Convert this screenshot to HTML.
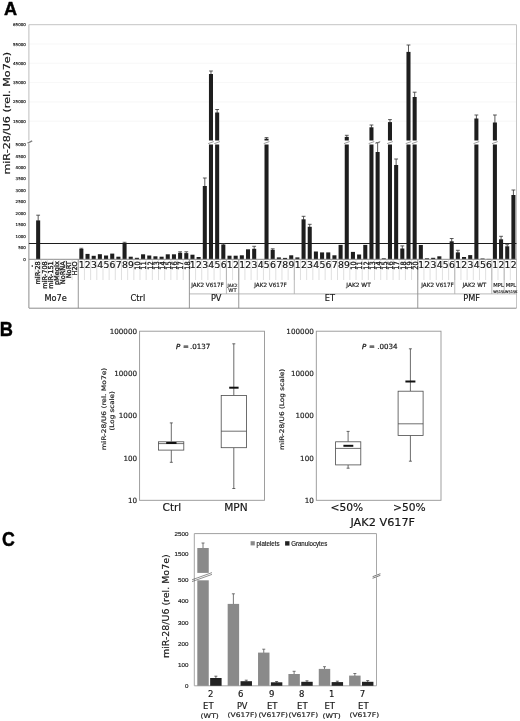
<!DOCTYPE html>
<html lang="en">
<head>
<meta charset="utf-8">
<title>miR-28 expression figure</title>
<style>
html,body{margin:0;padding:0;background:#fff;}
body{width:520px;height:721px;overflow:hidden;}
svg{display:block;font-family:"DejaVu Sans","Liberation Sans",sans-serif;fill:#222;}
svg text{stroke:#222;stroke-width:0.18px;}
svg text[font-weight=bold]{stroke:#000;stroke-width:0.45px;}
svg text.b{stroke-width:0.32px;}
</style>
</head>
<body>
<svg width="520" height="721" viewBox="0 0 520 721">
<rect x="0" y="0" width="520" height="721" fill="#fff"/>
<g id="panelA">
<text x="4" y="15.2" font-size="19.2" font-family='"Liberation Sans", "DejaVu Sans", sans-serif' font-weight="bold" fill="#000" textLength="13.1" lengthAdjust="spacingAndGlyphs">A</text>
<line x1="28.9" y1="44" x2="516.5" y2="44" stroke="#f5f5f5" stroke-width="0.8"/>
<line x1="28.9" y1="63.3" x2="516.5" y2="63.3" stroke="#f5f5f5" stroke-width="0.8"/>
<line x1="28.9" y1="82.6" x2="516.5" y2="82.6" stroke="#f5f5f5" stroke-width="0.8"/>
<line x1="28.9" y1="101.9" x2="516.5" y2="101.9" stroke="#f5f5f5" stroke-width="0.8"/>
<line x1="28.9" y1="121.2" x2="516.5" y2="121.2" stroke="#f5f5f5" stroke-width="0.8"/>
<line x1="28.9" y1="24.7" x2="516.5" y2="24.7" stroke="#c4c4c4" stroke-width="1"/>
<line x1="516.5" y1="24.7" x2="516.5" y2="308" stroke="#c4c4c4" stroke-width="1"/>
<line x1="28.9" y1="24.7" x2="28.9" y2="140.6" stroke="#bdbdbd" stroke-width="1"/>
<line x1="28.9" y1="143.6" x2="28.9" y2="308" stroke="#8c8c8c" stroke-width="1"/>
<line x1="27.6" y1="143.2" x2="32.2" y2="140.8" stroke="#808080" stroke-width="1.4"/>
<text x="25.8" y="26.25" font-size="4" text-anchor="end">65000</text>
<text x="25.8" y="45.75" font-size="4" text-anchor="end">55000</text>
<text x="25.8" y="65.05" font-size="4" text-anchor="end">45000</text>
<text x="25.8" y="84.35" font-size="4" text-anchor="end">35000</text>
<text x="25.8" y="103.45" font-size="4" text-anchor="end">25000</text>
<text x="25.8" y="122.75" font-size="4" text-anchor="end">15000</text>
<text x="25.8" y="146.05" font-size="4" text-anchor="end">5000</text>
<text x="25.8" y="157.53" font-size="4" text-anchor="end">4500</text>
<text x="25.8" y="169.01" font-size="4" text-anchor="end">4000</text>
<text x="25.8" y="180.49" font-size="4" text-anchor="end">3500</text>
<text x="25.8" y="191.97" font-size="4" text-anchor="end">3000</text>
<text x="25.8" y="203.45" font-size="4" text-anchor="end">2500</text>
<text x="25.8" y="214.93" font-size="4" text-anchor="end">2000</text>
<text x="25.8" y="226.41" font-size="4" text-anchor="end">1500</text>
<text x="25.8" y="237.89" font-size="4" text-anchor="end">1000</text>
<text x="25.8" y="249.37" font-size="4" text-anchor="end">500</text>
<text x="25.8" y="260.85" font-size="4" text-anchor="end">0</text>
<text x="10.3" y="113.3" font-size="8.8" text-anchor="middle" fill="#111" transform="rotate(-90 10.3 113.3)" textLength="122.6" lengthAdjust="spacingAndGlyphs">miR-28/U6 (rel. Mo7e)</text>
<line x1="28.9" y1="243.4" x2="516.5" y2="243.4" stroke="#1c1c1c" stroke-width="1.05"/>
<line x1="38.16" y1="215.2" x2="38.16" y2="220.9" stroke="#3c3c3c" stroke-width="0.85"/>
<line x1="36.26" y1="215.2" x2="40.06" y2="215.2" stroke="#3c3c3c" stroke-width="0.85"/>
<rect x="36.13" y="220.4" width="4.05" height="38.9" fill="#1e1e1e"/>
<line x1="81.36" y1="248.3" x2="81.36" y2="249.5" stroke="#3c3c3c" stroke-width="0.85"/>
<line x1="79.46" y1="248.3" x2="83.26" y2="248.3" stroke="#3c3c3c" stroke-width="0.85"/>
<rect x="79.34" y="249" width="4.05" height="10.3" fill="#1e1e1e"/>
<rect x="85.51" y="253.9" width="4.05" height="5.4" fill="#1e1e1e"/>
<rect x="91.68" y="255.8" width="4.05" height="3.5" fill="#1e1e1e"/>
<rect x="97.85" y="254.2" width="4.05" height="5.1" fill="#1e1e1e"/>
<rect x="104.03" y="255.5" width="4.05" height="3.8" fill="#1e1e1e"/>
<rect x="110.2" y="253.6" width="4.05" height="5.7" fill="#1e1e1e"/>
<rect x="116.37" y="256.7" width="4.05" height="2.6" fill="#1e1e1e"/>
<line x1="124.57" y1="242.3" x2="124.57" y2="243.6" stroke="#3c3c3c" stroke-width="0.85"/>
<line x1="122.67" y1="242.3" x2="126.47" y2="242.3" stroke="#3c3c3c" stroke-width="0.85"/>
<rect x="122.54" y="243.1" width="4.05" height="16.2" fill="#1e1e1e"/>
<rect x="128.72" y="256.7" width="4.05" height="2.6" fill="#1e1e1e"/>
<rect x="134.89" y="257.8" width="4.05" height="1.5" fill="#1e1e1e"/>
<rect x="141.06" y="254.3" width="4.05" height="5" fill="#1e1e1e"/>
<rect x="147.23" y="255.5" width="4.05" height="3.8" fill="#1e1e1e"/>
<rect x="153.4" y="256.3" width="4.05" height="3" fill="#1e1e1e"/>
<rect x="159.58" y="256.7" width="4.05" height="2.6" fill="#1e1e1e"/>
<rect x="165.75" y="254.3" width="4.05" height="5" fill="#1e1e1e"/>
<rect x="171.92" y="254.3" width="4.05" height="5" fill="#1e1e1e"/>
<line x1="180.12" y1="251.8" x2="180.12" y2="253.3" stroke="#3c3c3c" stroke-width="0.85"/>
<line x1="178.22" y1="251.8" x2="182.02" y2="251.8" stroke="#3c3c3c" stroke-width="0.85"/>
<rect x="178.09" y="252.8" width="4.05" height="6.5" fill="#1e1e1e"/>
<line x1="186.29" y1="251.8" x2="186.29" y2="253.6" stroke="#3c3c3c" stroke-width="0.85"/>
<line x1="184.39" y1="251.8" x2="188.19" y2="251.8" stroke="#3c3c3c" stroke-width="0.85"/>
<rect x="184.26" y="253.1" width="4.05" height="6.2" fill="#1e1e1e"/>
<rect x="190.44" y="254.7" width="4.05" height="4.6" fill="#1e1e1e"/>
<rect x="196.61" y="257" width="4.05" height="2.3" fill="#1e1e1e"/>
<line x1="204.81" y1="178" x2="204.81" y2="186.5" stroke="#3c3c3c" stroke-width="0.85"/>
<line x1="202.91" y1="178" x2="206.71" y2="178" stroke="#3c3c3c" stroke-width="0.85"/>
<rect x="202.78" y="186" width="4.05" height="73.3" fill="#1e1e1e"/>
<line x1="210.98" y1="71" x2="210.98" y2="74.5" stroke="#3c3c3c" stroke-width="0.85"/>
<line x1="209.08" y1="71" x2="212.88" y2="71" stroke="#3c3c3c" stroke-width="0.85"/>
<rect x="208.95" y="74" width="4.05" height="66.5" fill="#1e1e1e"/>
<rect x="208.95" y="144.5" width="4.05" height="114.8" fill="#1e1e1e"/>
<line x1="208.18" y1="143.6" x2="213.78" y2="141.6" stroke="#9a9a9a" stroke-width="1"/>
<line x1="217.15" y1="109.5" x2="217.15" y2="113" stroke="#3c3c3c" stroke-width="0.85"/>
<line x1="215.25" y1="109.5" x2="219.05" y2="109.5" stroke="#3c3c3c" stroke-width="0.85"/>
<rect x="215.13" y="112.5" width="4.05" height="28" fill="#1e1e1e"/>
<rect x="215.13" y="144.5" width="4.05" height="114.8" fill="#1e1e1e"/>
<line x1="214.35" y1="143.6" x2="219.95" y2="141.6" stroke="#9a9a9a" stroke-width="1"/>
<line x1="223.32" y1="243.8" x2="223.32" y2="245.1" stroke="#3c3c3c" stroke-width="0.85"/>
<line x1="221.42" y1="243.8" x2="225.22" y2="243.8" stroke="#3c3c3c" stroke-width="0.85"/>
<rect x="221.3" y="244.6" width="4.05" height="14.7" fill="#1e1e1e"/>
<rect x="227.47" y="255.7" width="4.05" height="3.6" fill="#1e1e1e"/>
<rect x="233.64" y="255.7" width="4.05" height="3.6" fill="#1e1e1e"/>
<rect x="239.81" y="255.3" width="4.05" height="4" fill="#1e1e1e"/>
<rect x="245.99" y="249.3" width="4.05" height="10" fill="#1e1e1e"/>
<line x1="254.18" y1="246.3" x2="254.18" y2="249.3" stroke="#3c3c3c" stroke-width="0.85"/>
<line x1="252.28" y1="246.3" x2="256.08" y2="246.3" stroke="#3c3c3c" stroke-width="0.85"/>
<rect x="252.16" y="248.8" width="4.05" height="10.5" fill="#1e1e1e"/>
<line x1="266.53" y1="137.6" x2="266.53" y2="139.2" stroke="#3c3c3c" stroke-width="0.85"/>
<line x1="264.63" y1="137.6" x2="268.43" y2="137.6" stroke="#3c3c3c" stroke-width="0.85"/>
<rect x="264.5" y="138.7" width="4.05" height="1.8" fill="#1e1e1e"/>
<rect x="264.5" y="144.5" width="4.05" height="114.8" fill="#1e1e1e"/>
<line x1="263.73" y1="143.6" x2="269.33" y2="141.6" stroke="#9a9a9a" stroke-width="1"/>
<line x1="272.7" y1="248.8" x2="272.7" y2="250.3" stroke="#3c3c3c" stroke-width="0.85"/>
<line x1="270.8" y1="248.8" x2="274.6" y2="248.8" stroke="#3c3c3c" stroke-width="0.85"/>
<rect x="270.68" y="249.8" width="4.05" height="9.5" fill="#1e1e1e"/>
<rect x="276.85" y="257.4" width="4.05" height="1.9" fill="#1e1e1e"/>
<rect x="283.02" y="257.9" width="4.05" height="1.4" fill="#1e1e1e"/>
<rect x="289.19" y="255.3" width="4.05" height="4" fill="#1e1e1e"/>
<rect x="295.36" y="257.4" width="4.05" height="1.9" fill="#1e1e1e"/>
<line x1="303.56" y1="216.3" x2="303.56" y2="219.8" stroke="#3c3c3c" stroke-width="0.85"/>
<line x1="301.66" y1="216.3" x2="305.46" y2="216.3" stroke="#3c3c3c" stroke-width="0.85"/>
<rect x="301.54" y="219.3" width="4.05" height="40" fill="#1e1e1e"/>
<line x1="309.73" y1="224.3" x2="309.73" y2="227.3" stroke="#3c3c3c" stroke-width="0.85"/>
<line x1="307.83" y1="224.3" x2="311.63" y2="224.3" stroke="#3c3c3c" stroke-width="0.85"/>
<rect x="307.71" y="226.8" width="4.05" height="32.5" fill="#1e1e1e"/>
<rect x="313.88" y="251.5" width="4.05" height="7.8" fill="#1e1e1e"/>
<rect x="320.05" y="252.4" width="4.05" height="6.9" fill="#1e1e1e"/>
<rect x="326.22" y="252.4" width="4.05" height="6.9" fill="#1e1e1e"/>
<rect x="332.4" y="255.3" width="4.05" height="4" fill="#1e1e1e"/>
<rect x="338.57" y="244.9" width="4.05" height="14.4" fill="#1e1e1e"/>
<line x1="346.77" y1="135.3" x2="346.77" y2="137.4" stroke="#3c3c3c" stroke-width="0.85"/>
<line x1="344.87" y1="135.3" x2="348.67" y2="135.3" stroke="#3c3c3c" stroke-width="0.85"/>
<rect x="344.74" y="136.9" width="4.05" height="3.6" fill="#1e1e1e"/>
<rect x="344.74" y="144.5" width="4.05" height="114.8" fill="#1e1e1e"/>
<line x1="343.97" y1="143.6" x2="349.57" y2="141.6" stroke="#9a9a9a" stroke-width="1"/>
<rect x="350.91" y="251.9" width="4.05" height="7.4" fill="#1e1e1e"/>
<rect x="357.09" y="254.5" width="4.05" height="4.8" fill="#1e1e1e"/>
<rect x="363.26" y="244.9" width="4.05" height="14.4" fill="#1e1e1e"/>
<line x1="371.45" y1="125" x2="371.45" y2="127.8" stroke="#3c3c3c" stroke-width="0.85"/>
<line x1="369.55" y1="125" x2="373.35" y2="125" stroke="#3c3c3c" stroke-width="0.85"/>
<rect x="369.43" y="127.3" width="4.05" height="13.2" fill="#1e1e1e"/>
<rect x="369.43" y="144.5" width="4.05" height="114.8" fill="#1e1e1e"/>
<line x1="368.65" y1="143.6" x2="374.25" y2="141.6" stroke="#9a9a9a" stroke-width="1"/>
<line x1="377.63" y1="142.6" x2="377.63" y2="152.5" stroke="#3c3c3c" stroke-width="0.85"/>
<line x1="375.73" y1="142.6" x2="379.53" y2="142.6" stroke="#3c3c3c" stroke-width="0.85"/>
<rect x="375.6" y="152" width="4.05" height="107.3" fill="#1e1e1e"/>
<line x1="375.43" y1="143.5" x2="380.23" y2="141.5" stroke="#777" stroke-width="0.9"/>
<rect x="381.77" y="258.3" width="4.05" height="1" fill="#1e1e1e"/>
<line x1="389.97" y1="119.6" x2="389.97" y2="122.6" stroke="#3c3c3c" stroke-width="0.85"/>
<line x1="388.07" y1="119.6" x2="391.87" y2="119.6" stroke="#3c3c3c" stroke-width="0.85"/>
<rect x="387.95" y="122.1" width="4.05" height="18.4" fill="#1e1e1e"/>
<rect x="387.95" y="144.5" width="4.05" height="114.8" fill="#1e1e1e"/>
<line x1="387.17" y1="143.6" x2="392.77" y2="141.6" stroke="#9a9a9a" stroke-width="1"/>
<line x1="396.14" y1="159" x2="396.14" y2="165.5" stroke="#3c3c3c" stroke-width="0.85"/>
<line x1="394.24" y1="159" x2="398.04" y2="159" stroke="#3c3c3c" stroke-width="0.85"/>
<rect x="394.12" y="165" width="4.05" height="94.3" fill="#1e1e1e"/>
<line x1="402.32" y1="245.9" x2="402.32" y2="249" stroke="#3c3c3c" stroke-width="0.85"/>
<line x1="400.42" y1="245.9" x2="404.22" y2="245.9" stroke="#3c3c3c" stroke-width="0.85"/>
<rect x="400.29" y="248.5" width="4.05" height="10.8" fill="#1e1e1e"/>
<line x1="408.49" y1="45" x2="408.49" y2="52.4" stroke="#3c3c3c" stroke-width="0.85"/>
<line x1="406.59" y1="45" x2="410.39" y2="45" stroke="#3c3c3c" stroke-width="0.85"/>
<rect x="406.46" y="51.9" width="4.05" height="88.6" fill="#1e1e1e"/>
<rect x="406.46" y="144.5" width="4.05" height="114.8" fill="#1e1e1e"/>
<line x1="405.69" y1="143.6" x2="411.29" y2="141.6" stroke="#9a9a9a" stroke-width="1"/>
<line x1="414.66" y1="92.2" x2="414.66" y2="97.5" stroke="#3c3c3c" stroke-width="0.85"/>
<line x1="412.76" y1="92.2" x2="416.56" y2="92.2" stroke="#3c3c3c" stroke-width="0.85"/>
<rect x="412.63" y="97" width="4.05" height="43.5" fill="#1e1e1e"/>
<rect x="412.63" y="144.5" width="4.05" height="114.8" fill="#1e1e1e"/>
<line x1="411.86" y1="143.6" x2="417.46" y2="141.6" stroke="#9a9a9a" stroke-width="1"/>
<rect x="418.81" y="245" width="4.05" height="14.3" fill="#1e1e1e"/>
<rect x="424.98" y="258.3" width="4.05" height="1" fill="#1e1e1e"/>
<rect x="431.15" y="257.8" width="4.05" height="1.5" fill="#1e1e1e"/>
<rect x="437.32" y="256.3" width="4.05" height="3" fill="#1e1e1e"/>
<line x1="451.69" y1="238.5" x2="451.69" y2="241.8" stroke="#3c3c3c" stroke-width="0.85"/>
<line x1="449.79" y1="238.5" x2="453.59" y2="238.5" stroke="#3c3c3c" stroke-width="0.85"/>
<rect x="449.67" y="241.3" width="4.05" height="18" fill="#1e1e1e"/>
<line x1="457.86" y1="250.3" x2="457.86" y2="252.9" stroke="#3c3c3c" stroke-width="0.85"/>
<line x1="455.96" y1="250.3" x2="459.76" y2="250.3" stroke="#3c3c3c" stroke-width="0.85"/>
<rect x="455.84" y="252.4" width="4.05" height="6.9" fill="#1e1e1e"/>
<rect x="462.01" y="257" width="4.05" height="2.3" fill="#1e1e1e"/>
<rect x="468.18" y="255.1" width="4.05" height="4.2" fill="#1e1e1e"/>
<line x1="476.38" y1="115" x2="476.38" y2="119" stroke="#3c3c3c" stroke-width="0.85"/>
<line x1="474.48" y1="115" x2="478.28" y2="115" stroke="#3c3c3c" stroke-width="0.85"/>
<rect x="474.36" y="118.5" width="4.05" height="22" fill="#1e1e1e"/>
<rect x="474.36" y="144.5" width="4.05" height="114.8" fill="#1e1e1e"/>
<line x1="473.58" y1="143.6" x2="479.18" y2="141.6" stroke="#9a9a9a" stroke-width="1"/>
<rect x="480.53" y="258.5" width="4.05" height="0.8" fill="#1e1e1e"/>
<rect x="486.7" y="258.9" width="4.05" height="0.4" fill="#1e1e1e"/>
<line x1="494.9" y1="115" x2="494.9" y2="123" stroke="#3c3c3c" stroke-width="0.85"/>
<line x1="493" y1="115" x2="496.8" y2="115" stroke="#3c3c3c" stroke-width="0.85"/>
<rect x="492.87" y="122.5" width="4.05" height="18" fill="#1e1e1e"/>
<rect x="492.87" y="144.5" width="4.05" height="114.8" fill="#1e1e1e"/>
<line x1="492.1" y1="143.6" x2="497.7" y2="141.6" stroke="#9a9a9a" stroke-width="1"/>
<line x1="501.07" y1="236.3" x2="501.07" y2="239.8" stroke="#3c3c3c" stroke-width="0.85"/>
<line x1="499.17" y1="236.3" x2="502.97" y2="236.3" stroke="#3c3c3c" stroke-width="0.85"/>
<rect x="499.04" y="239.3" width="4.05" height="20" fill="#1e1e1e"/>
<line x1="507.24" y1="244.7" x2="507.24" y2="246.8" stroke="#3c3c3c" stroke-width="0.85"/>
<line x1="505.34" y1="244.7" x2="509.14" y2="244.7" stroke="#3c3c3c" stroke-width="0.85"/>
<rect x="505.22" y="246.3" width="4.05" height="13" fill="#1e1e1e"/>
<line x1="513.41" y1="190" x2="513.41" y2="195.5" stroke="#3c3c3c" stroke-width="0.85"/>
<line x1="511.51" y1="190" x2="515.31" y2="190" stroke="#3c3c3c" stroke-width="0.85"/>
<rect x="511.39" y="195" width="4.05" height="64.3" fill="#1e1e1e"/>
<line x1="28.9" y1="259.3" x2="516.5" y2="259.3" stroke="#8c8c8c" stroke-width="1"/>
<line x1="35.07" y1="259.8" x2="35.07" y2="280" stroke="#d2d2d2" stroke-width="0.7"/>
<line x1="41.24" y1="259.8" x2="41.24" y2="280" stroke="#d2d2d2" stroke-width="0.7"/>
<line x1="47.42" y1="259.8" x2="47.42" y2="280" stroke="#d2d2d2" stroke-width="0.7"/>
<line x1="53.59" y1="259.8" x2="53.59" y2="280" stroke="#d2d2d2" stroke-width="0.7"/>
<line x1="59.76" y1="259.8" x2="59.76" y2="280" stroke="#d2d2d2" stroke-width="0.7"/>
<line x1="65.93" y1="259.8" x2="65.93" y2="280" stroke="#d2d2d2" stroke-width="0.7"/>
<line x1="72.11" y1="259.8" x2="72.11" y2="280" stroke="#d2d2d2" stroke-width="0.7"/>
<line x1="78.28" y1="259.8" x2="78.28" y2="280" stroke="#d2d2d2" stroke-width="0.7"/>
<line x1="84.45" y1="259.8" x2="84.45" y2="280" stroke="#d2d2d2" stroke-width="0.7"/>
<line x1="90.62" y1="259.8" x2="90.62" y2="280" stroke="#d2d2d2" stroke-width="0.7"/>
<line x1="96.79" y1="259.8" x2="96.79" y2="280" stroke="#d2d2d2" stroke-width="0.7"/>
<line x1="102.97" y1="259.8" x2="102.97" y2="280" stroke="#d2d2d2" stroke-width="0.7"/>
<line x1="109.14" y1="259.8" x2="109.14" y2="280" stroke="#d2d2d2" stroke-width="0.7"/>
<line x1="115.31" y1="259.8" x2="115.31" y2="280" stroke="#d2d2d2" stroke-width="0.7"/>
<line x1="121.48" y1="259.8" x2="121.48" y2="280" stroke="#d2d2d2" stroke-width="0.7"/>
<line x1="127.65" y1="259.8" x2="127.65" y2="280" stroke="#d2d2d2" stroke-width="0.7"/>
<line x1="133.83" y1="259.8" x2="133.83" y2="280" stroke="#d2d2d2" stroke-width="0.7"/>
<line x1="140" y1="259.8" x2="140" y2="280" stroke="#d2d2d2" stroke-width="0.7"/>
<line x1="146.17" y1="259.8" x2="146.17" y2="280" stroke="#d2d2d2" stroke-width="0.7"/>
<line x1="152.34" y1="259.8" x2="152.34" y2="280" stroke="#d2d2d2" stroke-width="0.7"/>
<line x1="158.52" y1="259.8" x2="158.52" y2="280" stroke="#d2d2d2" stroke-width="0.7"/>
<line x1="164.69" y1="259.8" x2="164.69" y2="280" stroke="#d2d2d2" stroke-width="0.7"/>
<line x1="170.86" y1="259.8" x2="170.86" y2="280" stroke="#d2d2d2" stroke-width="0.7"/>
<line x1="177.03" y1="259.8" x2="177.03" y2="280" stroke="#d2d2d2" stroke-width="0.7"/>
<line x1="183.2" y1="259.8" x2="183.2" y2="280" stroke="#d2d2d2" stroke-width="0.7"/>
<line x1="189.38" y1="259.8" x2="189.38" y2="280" stroke="#d2d2d2" stroke-width="0.7"/>
<line x1="195.55" y1="259.8" x2="195.55" y2="280" stroke="#d2d2d2" stroke-width="0.7"/>
<line x1="201.72" y1="259.8" x2="201.72" y2="280" stroke="#d2d2d2" stroke-width="0.7"/>
<line x1="207.89" y1="259.8" x2="207.89" y2="280" stroke="#d2d2d2" stroke-width="0.7"/>
<line x1="214.06" y1="259.8" x2="214.06" y2="280" stroke="#d2d2d2" stroke-width="0.7"/>
<line x1="220.24" y1="259.8" x2="220.24" y2="280" stroke="#d2d2d2" stroke-width="0.7"/>
<line x1="226.41" y1="259.8" x2="226.41" y2="280" stroke="#d2d2d2" stroke-width="0.7"/>
<line x1="232.58" y1="259.8" x2="232.58" y2="280" stroke="#d2d2d2" stroke-width="0.7"/>
<line x1="238.75" y1="259.8" x2="238.75" y2="280" stroke="#d2d2d2" stroke-width="0.7"/>
<line x1="244.93" y1="259.8" x2="244.93" y2="280" stroke="#d2d2d2" stroke-width="0.7"/>
<line x1="251.1" y1="259.8" x2="251.1" y2="280" stroke="#d2d2d2" stroke-width="0.7"/>
<line x1="257.27" y1="259.8" x2="257.27" y2="280" stroke="#d2d2d2" stroke-width="0.7"/>
<line x1="263.44" y1="259.8" x2="263.44" y2="280" stroke="#d2d2d2" stroke-width="0.7"/>
<line x1="269.61" y1="259.8" x2="269.61" y2="280" stroke="#d2d2d2" stroke-width="0.7"/>
<line x1="275.79" y1="259.8" x2="275.79" y2="280" stroke="#d2d2d2" stroke-width="0.7"/>
<line x1="281.96" y1="259.8" x2="281.96" y2="280" stroke="#d2d2d2" stroke-width="0.7"/>
<line x1="288.13" y1="259.8" x2="288.13" y2="280" stroke="#d2d2d2" stroke-width="0.7"/>
<line x1="294.3" y1="259.8" x2="294.3" y2="280" stroke="#d2d2d2" stroke-width="0.7"/>
<line x1="300.47" y1="259.8" x2="300.47" y2="280" stroke="#d2d2d2" stroke-width="0.7"/>
<line x1="306.65" y1="259.8" x2="306.65" y2="280" stroke="#d2d2d2" stroke-width="0.7"/>
<line x1="312.82" y1="259.8" x2="312.82" y2="280" stroke="#d2d2d2" stroke-width="0.7"/>
<line x1="318.99" y1="259.8" x2="318.99" y2="280" stroke="#d2d2d2" stroke-width="0.7"/>
<line x1="325.16" y1="259.8" x2="325.16" y2="280" stroke="#d2d2d2" stroke-width="0.7"/>
<line x1="331.34" y1="259.8" x2="331.34" y2="280" stroke="#d2d2d2" stroke-width="0.7"/>
<line x1="337.51" y1="259.8" x2="337.51" y2="280" stroke="#d2d2d2" stroke-width="0.7"/>
<line x1="343.68" y1="259.8" x2="343.68" y2="280" stroke="#d2d2d2" stroke-width="0.7"/>
<line x1="349.85" y1="259.8" x2="349.85" y2="280" stroke="#d2d2d2" stroke-width="0.7"/>
<line x1="356.02" y1="259.8" x2="356.02" y2="280" stroke="#d2d2d2" stroke-width="0.7"/>
<line x1="362.2" y1="259.8" x2="362.2" y2="280" stroke="#d2d2d2" stroke-width="0.7"/>
<line x1="368.37" y1="259.8" x2="368.37" y2="280" stroke="#d2d2d2" stroke-width="0.7"/>
<line x1="374.54" y1="259.8" x2="374.54" y2="280" stroke="#d2d2d2" stroke-width="0.7"/>
<line x1="380.71" y1="259.8" x2="380.71" y2="280" stroke="#d2d2d2" stroke-width="0.7"/>
<line x1="386.88" y1="259.8" x2="386.88" y2="280" stroke="#d2d2d2" stroke-width="0.7"/>
<line x1="393.06" y1="259.8" x2="393.06" y2="280" stroke="#d2d2d2" stroke-width="0.7"/>
<line x1="399.23" y1="259.8" x2="399.23" y2="280" stroke="#d2d2d2" stroke-width="0.7"/>
<line x1="405.4" y1="259.8" x2="405.4" y2="280" stroke="#d2d2d2" stroke-width="0.7"/>
<line x1="411.57" y1="259.8" x2="411.57" y2="280" stroke="#d2d2d2" stroke-width="0.7"/>
<line x1="417.75" y1="259.8" x2="417.75" y2="280" stroke="#d2d2d2" stroke-width="0.7"/>
<line x1="423.92" y1="259.8" x2="423.92" y2="280" stroke="#d2d2d2" stroke-width="0.7"/>
<line x1="430.09" y1="259.8" x2="430.09" y2="280" stroke="#d2d2d2" stroke-width="0.7"/>
<line x1="436.26" y1="259.8" x2="436.26" y2="280" stroke="#d2d2d2" stroke-width="0.7"/>
<line x1="442.43" y1="259.8" x2="442.43" y2="280" stroke="#d2d2d2" stroke-width="0.7"/>
<line x1="448.61" y1="259.8" x2="448.61" y2="280" stroke="#d2d2d2" stroke-width="0.7"/>
<line x1="454.78" y1="259.8" x2="454.78" y2="280" stroke="#d2d2d2" stroke-width="0.7"/>
<line x1="460.95" y1="259.8" x2="460.95" y2="280" stroke="#d2d2d2" stroke-width="0.7"/>
<line x1="467.12" y1="259.8" x2="467.12" y2="280" stroke="#d2d2d2" stroke-width="0.7"/>
<line x1="473.29" y1="259.8" x2="473.29" y2="280" stroke="#d2d2d2" stroke-width="0.7"/>
<line x1="479.47" y1="259.8" x2="479.47" y2="280" stroke="#d2d2d2" stroke-width="0.7"/>
<line x1="485.64" y1="259.8" x2="485.64" y2="280" stroke="#d2d2d2" stroke-width="0.7"/>
<line x1="491.81" y1="259.8" x2="491.81" y2="280" stroke="#d2d2d2" stroke-width="0.7"/>
<line x1="497.98" y1="259.8" x2="497.98" y2="280" stroke="#d2d2d2" stroke-width="0.7"/>
<line x1="504.16" y1="259.8" x2="504.16" y2="280" stroke="#d2d2d2" stroke-width="0.7"/>
<line x1="510.33" y1="259.8" x2="510.33" y2="280" stroke="#d2d2d2" stroke-width="0.7"/>
<line x1="226.41" y1="259.3" x2="226.41" y2="293.9" stroke="#a8a8a8" stroke-width="0.8"/>
<line x1="294.3" y1="259.3" x2="294.3" y2="293.9" stroke="#a8a8a8" stroke-width="0.8"/>
<line x1="454.78" y1="259.3" x2="454.78" y2="293.9" stroke="#a8a8a8" stroke-width="0.8"/>
<line x1="491.81" y1="259.3" x2="491.81" y2="293.9" stroke="#a8a8a8" stroke-width="0.8"/>
<line x1="504.16" y1="259.3" x2="504.16" y2="293.9" stroke="#a8a8a8" stroke-width="0.8"/>
<line x1="189.38" y1="293.9" x2="516.5" y2="293.9" stroke="#a8a8a8" stroke-width="0.8"/>
<line x1="78.28" y1="259.3" x2="78.28" y2="308.2" stroke="#8c8c8c" stroke-width="0.9"/>
<line x1="189.38" y1="259.3" x2="189.38" y2="308.2" stroke="#8c8c8c" stroke-width="0.9"/>
<line x1="238.75" y1="259.3" x2="238.75" y2="308.2" stroke="#8c8c8c" stroke-width="0.9"/>
<line x1="417.75" y1="259.3" x2="417.75" y2="308.2" stroke="#8c8c8c" stroke-width="0.9"/>
<line x1="28.9" y1="308.2" x2="516.5" y2="308.2" stroke="#8c8c8c" stroke-width="1"/>
<text x="34.29" y="264.8" font-size="6.6" text-anchor="end" transform="rotate(-90 34.29 264.8)" class="b">-</text>
<text x="40.46" y="261.2" font-size="6.6" text-anchor="end" transform="rotate(-90 40.46 261.2)" class="b">miR-28</text>
<text x="46.63" y="261.2" font-size="6.6" text-anchor="end" transform="rotate(-90 46.63 261.2)" class="b">miR-708</text>
<text x="52.8" y="261.2" font-size="6.6" text-anchor="end" transform="rotate(-90 52.8 261.2)" class="b">miR-151</text>
<text x="58.97" y="261.2" font-size="6.6" text-anchor="end" transform="rotate(-90 58.97 261.2)" class="b">pMegix</text>
<text x="65.15" y="261.2" font-size="6.6" text-anchor="end" transform="rotate(-90 65.15 261.2)" class="b">NoRNA</text>
<text x="71.32" y="261.2" font-size="6.6" text-anchor="end" transform="rotate(-90 71.32 261.2)" class="b">NoRT</text>
<text x="77.49" y="261.2" font-size="6.6" text-anchor="end" transform="rotate(-90 77.49 261.2)" class="b">H2O</text>
<text x="81.66" y="268.2" font-size="8.6" text-anchor="middle" fill="#111" textLength="5.9" lengthAdjust="spacingAndGlyphs">1</text>
<text x="87.84" y="268.2" font-size="8.6" text-anchor="middle" fill="#111" textLength="5.9" lengthAdjust="spacingAndGlyphs">2</text>
<text x="94.01" y="268.2" font-size="8.6" text-anchor="middle" fill="#111" textLength="5.9" lengthAdjust="spacingAndGlyphs">3</text>
<text x="100.18" y="268.2" font-size="8.6" text-anchor="middle" fill="#111" textLength="5.9" lengthAdjust="spacingAndGlyphs">4</text>
<text x="106.35" y="268.2" font-size="8.6" text-anchor="middle" fill="#111" textLength="5.9" lengthAdjust="spacingAndGlyphs">5</text>
<text x="112.52" y="268.2" font-size="8.6" text-anchor="middle" fill="#111" textLength="5.9" lengthAdjust="spacingAndGlyphs">6</text>
<text x="118.7" y="268.2" font-size="8.6" text-anchor="middle" fill="#111" textLength="5.9" lengthAdjust="spacingAndGlyphs">7</text>
<text x="124.87" y="268.2" font-size="8.6" text-anchor="middle" fill="#111" textLength="5.9" lengthAdjust="spacingAndGlyphs">8</text>
<text x="131.04" y="268.2" font-size="8.6" text-anchor="middle" fill="#111" textLength="5.9" lengthAdjust="spacingAndGlyphs">9</text>
<text class="b" font-size="7.4" text-anchor="end" fill="#111" transform="translate(140.21 261.3) rotate(-90) scale(0.9 1)">10</text>
<text class="b" font-size="7.4" text-anchor="end" fill="#111" transform="translate(146.38 261.3) rotate(-90) scale(0.9 1)">11</text>
<text class="b" font-size="7.4" text-anchor="end" fill="#111" transform="translate(152.56 261.3) rotate(-90) scale(0.9 1)">12</text>
<text class="b" font-size="7.4" text-anchor="end" fill="#111" transform="translate(158.73 261.3) rotate(-90) scale(0.9 1)">13</text>
<text class="b" font-size="7.4" text-anchor="end" fill="#111" transform="translate(164.9 261.3) rotate(-90) scale(0.9 1)">14</text>
<text class="b" font-size="7.4" text-anchor="end" fill="#111" transform="translate(171.07 261.3) rotate(-90) scale(0.9 1)">15</text>
<text class="b" font-size="7.4" text-anchor="end" fill="#111" transform="translate(177.25 261.3) rotate(-90) scale(0.9 1)">16</text>
<text class="b" font-size="7.4" text-anchor="end" fill="#111" transform="translate(183.42 261.3) rotate(-90) scale(0.9 1)">17</text>
<text class="b" font-size="7.4" text-anchor="end" fill="#111" transform="translate(189.59 261.3) rotate(-90) scale(0.9 1)">18</text>
<text x="192.76" y="268.2" font-size="8.6" text-anchor="middle" fill="#111" textLength="5.9" lengthAdjust="spacingAndGlyphs">1</text>
<text x="198.93" y="268.2" font-size="8.6" text-anchor="middle" fill="#111" textLength="5.9" lengthAdjust="spacingAndGlyphs">2</text>
<text x="205.11" y="268.2" font-size="8.6" text-anchor="middle" fill="#111" textLength="5.9" lengthAdjust="spacingAndGlyphs">3</text>
<text x="211.28" y="268.2" font-size="8.6" text-anchor="middle" fill="#111" textLength="5.9" lengthAdjust="spacingAndGlyphs">4</text>
<text x="217.45" y="268.2" font-size="8.6" text-anchor="middle" fill="#111" textLength="5.9" lengthAdjust="spacingAndGlyphs">5</text>
<text x="223.62" y="268.2" font-size="8.6" text-anchor="middle" fill="#111" textLength="5.9" lengthAdjust="spacingAndGlyphs">6</text>
<text x="229.79" y="268.2" font-size="8.6" text-anchor="middle" fill="#111" textLength="5.9" lengthAdjust="spacingAndGlyphs">1</text>
<text x="235.97" y="268.2" font-size="8.6" text-anchor="middle" fill="#111" textLength="5.9" lengthAdjust="spacingAndGlyphs">2</text>
<text x="242.14" y="268.2" font-size="8.6" text-anchor="middle" fill="#111" textLength="5.9" lengthAdjust="spacingAndGlyphs">1</text>
<text x="248.31" y="268.2" font-size="8.6" text-anchor="middle" fill="#111" textLength="5.9" lengthAdjust="spacingAndGlyphs">2</text>
<text x="254.48" y="268.2" font-size="8.6" text-anchor="middle" fill="#111" textLength="5.9" lengthAdjust="spacingAndGlyphs">3</text>
<text x="260.66" y="268.2" font-size="8.6" text-anchor="middle" fill="#111" textLength="5.9" lengthAdjust="spacingAndGlyphs">4</text>
<text x="266.83" y="268.2" font-size="8.6" text-anchor="middle" fill="#111" textLength="5.9" lengthAdjust="spacingAndGlyphs">5</text>
<text x="273" y="268.2" font-size="8.6" text-anchor="middle" fill="#111" textLength="5.9" lengthAdjust="spacingAndGlyphs">6</text>
<text x="279.17" y="268.2" font-size="8.6" text-anchor="middle" fill="#111" textLength="5.9" lengthAdjust="spacingAndGlyphs">7</text>
<text x="285.34" y="268.2" font-size="8.6" text-anchor="middle" fill="#111" textLength="5.9" lengthAdjust="spacingAndGlyphs">8</text>
<text x="291.52" y="268.2" font-size="8.6" text-anchor="middle" fill="#111" textLength="5.9" lengthAdjust="spacingAndGlyphs">9</text>
<text x="297.69" y="268.2" font-size="8.6" text-anchor="middle" fill="#111" textLength="5.9" lengthAdjust="spacingAndGlyphs">1</text>
<text x="303.86" y="268.2" font-size="8.6" text-anchor="middle" fill="#111" textLength="5.9" lengthAdjust="spacingAndGlyphs">2</text>
<text x="310.03" y="268.2" font-size="8.6" text-anchor="middle" fill="#111" textLength="5.9" lengthAdjust="spacingAndGlyphs">3</text>
<text x="316.21" y="268.2" font-size="8.6" text-anchor="middle" fill="#111" textLength="5.9" lengthAdjust="spacingAndGlyphs">4</text>
<text x="322.38" y="268.2" font-size="8.6" text-anchor="middle" fill="#111" textLength="5.9" lengthAdjust="spacingAndGlyphs">5</text>
<text x="328.55" y="268.2" font-size="8.6" text-anchor="middle" fill="#111" textLength="5.9" lengthAdjust="spacingAndGlyphs">6</text>
<text x="334.72" y="268.2" font-size="8.6" text-anchor="middle" fill="#111" textLength="5.9" lengthAdjust="spacingAndGlyphs">7</text>
<text x="340.89" y="268.2" font-size="8.6" text-anchor="middle" fill="#111" textLength="5.9" lengthAdjust="spacingAndGlyphs">8</text>
<text x="347.07" y="268.2" font-size="8.6" text-anchor="middle" fill="#111" textLength="5.9" lengthAdjust="spacingAndGlyphs">9</text>
<text class="b" font-size="7.4" text-anchor="end" fill="#111" transform="translate(356.24 261.3) rotate(-90) scale(0.9 1)">10</text>
<text class="b" font-size="7.4" text-anchor="end" fill="#111" transform="translate(362.41 261.3) rotate(-90) scale(0.9 1)">11</text>
<text class="b" font-size="7.4" text-anchor="end" fill="#111" transform="translate(368.58 261.3) rotate(-90) scale(0.9 1)">12</text>
<text class="b" font-size="7.4" text-anchor="end" fill="#111" transform="translate(374.75 261.3) rotate(-90) scale(0.9 1)">13</text>
<text class="b" font-size="7.4" text-anchor="end" fill="#111" transform="translate(380.93 261.3) rotate(-90) scale(0.9 1)">14</text>
<text class="b" font-size="7.4" text-anchor="end" fill="#111" transform="translate(387.1 261.3) rotate(-90) scale(0.9 1)">15</text>
<text class="b" font-size="7.4" text-anchor="end" fill="#111" transform="translate(393.27 261.3) rotate(-90) scale(0.9 1)">16</text>
<text class="b" font-size="7.4" text-anchor="end" fill="#111" transform="translate(399.44 261.3) rotate(-90) scale(0.9 1)">17</text>
<text class="b" font-size="7.4" text-anchor="end" fill="#111" transform="translate(405.62 261.3) rotate(-90) scale(0.9 1)">18</text>
<text class="b" font-size="7.4" text-anchor="end" fill="#111" transform="translate(411.79 261.3) rotate(-90) scale(0.9 1)">19</text>
<text class="b" font-size="7.4" text-anchor="end" fill="#111" transform="translate(417.96 261.3) rotate(-90) scale(0.9 1)">20</text>
<text x="421.13" y="268.2" font-size="8.6" text-anchor="middle" fill="#111" textLength="5.9" lengthAdjust="spacingAndGlyphs">1</text>
<text x="427.3" y="268.2" font-size="8.6" text-anchor="middle" fill="#111" textLength="5.9" lengthAdjust="spacingAndGlyphs">2</text>
<text x="433.48" y="268.2" font-size="8.6" text-anchor="middle" fill="#111" textLength="5.9" lengthAdjust="spacingAndGlyphs">3</text>
<text x="439.65" y="268.2" font-size="8.6" text-anchor="middle" fill="#111" textLength="5.9" lengthAdjust="spacingAndGlyphs">4</text>
<text x="445.82" y="268.2" font-size="8.6" text-anchor="middle" fill="#111" textLength="5.9" lengthAdjust="spacingAndGlyphs">5</text>
<text x="451.99" y="268.2" font-size="8.6" text-anchor="middle" fill="#111" textLength="5.9" lengthAdjust="spacingAndGlyphs">6</text>
<text x="458.16" y="268.2" font-size="8.6" text-anchor="middle" fill="#111" textLength="5.9" lengthAdjust="spacingAndGlyphs">1</text>
<text x="464.34" y="268.2" font-size="8.6" text-anchor="middle" fill="#111" textLength="5.9" lengthAdjust="spacingAndGlyphs">2</text>
<text x="470.51" y="268.2" font-size="8.6" text-anchor="middle" fill="#111" textLength="5.9" lengthAdjust="spacingAndGlyphs">3</text>
<text x="476.68" y="268.2" font-size="8.6" text-anchor="middle" fill="#111" textLength="5.9" lengthAdjust="spacingAndGlyphs">4</text>
<text x="482.85" y="268.2" font-size="8.6" text-anchor="middle" fill="#111" textLength="5.9" lengthAdjust="spacingAndGlyphs">5</text>
<text x="489.03" y="268.2" font-size="8.6" text-anchor="middle" fill="#111" textLength="5.9" lengthAdjust="spacingAndGlyphs">6</text>
<text x="495.2" y="268.2" font-size="8.6" text-anchor="middle" fill="#111" textLength="5.9" lengthAdjust="spacingAndGlyphs">1</text>
<text x="501.37" y="268.2" font-size="8.6" text-anchor="middle" fill="#111" textLength="5.9" lengthAdjust="spacingAndGlyphs">2</text>
<text x="507.54" y="268.2" font-size="8.6" text-anchor="middle" fill="#111" textLength="5.9" lengthAdjust="spacingAndGlyphs">1</text>
<text x="513.71" y="268.2" font-size="8.6" text-anchor="middle" fill="#111" textLength="5.9" lengthAdjust="spacingAndGlyphs">2</text>
<text x="207.5" y="287.2" font-size="5.7" text-anchor="middle" textLength="32.5" lengthAdjust="spacingAndGlyphs">JAK2 V617F</text>
<text x="270.5" y="287.2" font-size="5.7" text-anchor="middle" textLength="32.5" lengthAdjust="spacingAndGlyphs">JAK2 V617F</text>
<text x="358.5" y="287.2" font-size="5.7" text-anchor="middle" textLength="24.5" lengthAdjust="spacingAndGlyphs">JAK2 WT</text>
<text x="437.5" y="287.2" font-size="5.7" text-anchor="middle" textLength="32.5" lengthAdjust="spacingAndGlyphs">JAK2 V617F</text>
<text x="474.4" y="287.2" font-size="5.7" text-anchor="middle" textLength="23.8" lengthAdjust="spacingAndGlyphs">JAK2 WT</text>
<text x="232.5" y="286.6" font-size="4.4" text-anchor="middle" fill="#333">JAK2</text>
<text x="232.5" y="292.2" font-size="5.2" text-anchor="middle" fill="#333">WT</text>
<text x="498.6" y="286.9" font-size="5.4" text-anchor="middle" textLength="10.5" lengthAdjust="spacingAndGlyphs">MPL</text>
<text x="511" y="286.9" font-size="5.4" text-anchor="middle" textLength="10.5" lengthAdjust="spacingAndGlyphs">MPL</text>
<text x="499.2" y="292.5" font-size="3.5" text-anchor="middle" fill="#333">W515L</text>
<text x="511.2" y="292.5" font-size="3.5" text-anchor="middle" fill="#333">W515K</text>
<text x="55.6" y="301.3" font-size="8.2" text-anchor="middle" fill="#111">Mo7e</text>
<text x="137.9" y="301.3" font-size="8.2" text-anchor="middle" fill="#111">Ctrl</text>
<text x="216.2" y="301.3" font-size="8.2" text-anchor="middle" fill="#111">PV</text>
<text x="329.8" y="301.3" font-size="8.2" text-anchor="middle" fill="#111">ET</text>
<text x="471.7" y="301.3" font-size="8.2" text-anchor="middle" fill="#111">PMF</text>
</g>
<g id="panelB">
<text x="-0.27" y="335.6" font-size="19.4" font-family='"Liberation Sans", "DejaVu Sans", sans-serif' font-weight="bold" fill="#000" textLength="13.2" lengthAdjust="spacingAndGlyphs">B</text>
<rect x="139.6" y="331.2" width="124.9" height="169.1" fill="none" stroke="#949494" stroke-width="0.9"/>
<text x="137.1" y="333.85" font-size="7.2" text-anchor="end">100000</text>
<text x="137.1" y="376.12" font-size="7.2" text-anchor="end">10000</text>
<text x="137.1" y="418.4" font-size="7.2" text-anchor="end">1000</text>
<text x="137.1" y="460.67" font-size="7.2" text-anchor="end">100</text>
<text x="137.1" y="502.95" font-size="7.2" text-anchor="end">10</text>
<line x1="171.3" y1="422.9" x2="171.3" y2="441.8" stroke="#3a3a3a" stroke-width="0.75"/>
<line x1="171.3" y1="450.1" x2="171.3" y2="462.3" stroke="#3a3a3a" stroke-width="0.75"/>
<line x1="169.8" y1="422.9" x2="172.8" y2="422.9" stroke="#3a3a3a" stroke-width="0.75"/>
<line x1="169.8" y1="462.3" x2="172.8" y2="462.3" stroke="#3a3a3a" stroke-width="0.75"/>
<rect x="158.4" y="441.8" width="25.4" height="8.3" fill="#fff" stroke="#4a4a4a" stroke-width="0.8"/>
<line x1="158.4" y1="443.6" x2="183.8" y2="443.6" stroke="#4a4a4a" stroke-width="0.8"/>
<line x1="166.2" y1="443" x2="176.5" y2="443" stroke="#111" stroke-width="2"/>
<line x1="233.8" y1="343.8" x2="233.8" y2="395.4" stroke="#3a3a3a" stroke-width="0.75"/>
<line x1="233.8" y1="447.7" x2="233.8" y2="488.5" stroke="#3a3a3a" stroke-width="0.75"/>
<line x1="232.3" y1="343.8" x2="235.3" y2="343.8" stroke="#3a3a3a" stroke-width="0.75"/>
<line x1="232.3" y1="488.5" x2="235.3" y2="488.5" stroke="#3a3a3a" stroke-width="0.75"/>
<rect x="221.2" y="395.4" width="25.3" height="52.3" fill="#fff" stroke="#4a4a4a" stroke-width="0.8"/>
<line x1="221.2" y1="431.2" x2="246.5" y2="431.2" stroke="#4a4a4a" stroke-width="0.8"/>
<line x1="229.2" y1="387.7" x2="238.6" y2="387.7" stroke="#111" stroke-width="2"/>
<text x="176" y="348.5" font-size="7" font-style="italic" fill="#111" class="b">P</text>
<text x="183.1" y="348.5" font-size="7" fill="#111">=</text>
<text x="189.9" y="348.5" font-size="7.1" fill="#111">.0137</text>
<rect x="316.3" y="331.2" width="124.7" height="169.1" fill="none" stroke="#949494" stroke-width="0.9"/>
<text x="313.8" y="333.85" font-size="7.2" text-anchor="end">100000</text>
<text x="313.8" y="376.12" font-size="7.2" text-anchor="end">10000</text>
<text x="313.8" y="418.4" font-size="7.2" text-anchor="end">1000</text>
<text x="313.8" y="460.67" font-size="7.2" text-anchor="end">100</text>
<text x="313.8" y="502.95" font-size="7.2" text-anchor="end">10</text>
<line x1="348.1" y1="431.4" x2="348.1" y2="441.8" stroke="#3a3a3a" stroke-width="0.75"/>
<line x1="348.1" y1="464.9" x2="348.1" y2="468.2" stroke="#3a3a3a" stroke-width="0.75"/>
<line x1="346.6" y1="431.4" x2="349.6" y2="431.4" stroke="#3a3a3a" stroke-width="0.75"/>
<line x1="346.6" y1="468.2" x2="349.6" y2="468.2" stroke="#3a3a3a" stroke-width="0.75"/>
<rect x="335.6" y="441.8" width="25.2" height="23.1" fill="#fff" stroke="#4a4a4a" stroke-width="0.8"/>
<line x1="335.6" y1="448.4" x2="360.8" y2="448.4" stroke="#4a4a4a" stroke-width="0.8"/>
<line x1="343.4" y1="445.8" x2="353.3" y2="445.8" stroke="#111" stroke-width="2"/>
<line x1="410.4" y1="348.8" x2="410.4" y2="391.2" stroke="#3a3a3a" stroke-width="0.75"/>
<line x1="410.4" y1="435.4" x2="410.4" y2="461.2" stroke="#3a3a3a" stroke-width="0.75"/>
<line x1="408.9" y1="348.8" x2="411.9" y2="348.8" stroke="#3a3a3a" stroke-width="0.75"/>
<line x1="408.9" y1="461.2" x2="411.9" y2="461.2" stroke="#3a3a3a" stroke-width="0.75"/>
<rect x="398.1" y="391.2" width="25" height="44.2" fill="#fff" stroke="#4a4a4a" stroke-width="0.8"/>
<line x1="398.1" y1="423.8" x2="423.1" y2="423.8" stroke="#4a4a4a" stroke-width="0.8"/>
<line x1="405.4" y1="381.5" x2="415.4" y2="381.5" stroke="#111" stroke-width="2"/>
<text x="362" y="348.5" font-size="7" font-style="italic" fill="#111" class="b">P</text>
<text x="369" y="348.5" font-size="7" fill="#111">=</text>
<text x="377.3" y="348.5" font-size="7.1" fill="#111">.0034</text>
<text x="106.1" y="409" font-size="6.2" text-anchor="middle" transform="rotate(-90 106.1 409)" textLength="82.5" lengthAdjust="spacingAndGlyphs">miR-28/U6 (rel. Mo7e)</text>
<text x="114.4" y="410.8" font-size="6.2" text-anchor="middle" transform="rotate(-90 114.4 410.8)" textLength="39.3" lengthAdjust="spacingAndGlyphs">(Log scale)</text>
<text x="284.4" y="409.4" font-size="6.2" text-anchor="middle" transform="rotate(-90 284.4 409.4)" textLength="81.2" lengthAdjust="spacingAndGlyphs">miR-28/U6 (Log scale)</text>
<text x="171.9" y="511.1" font-size="10.5" text-anchor="middle" fill="#111">Ctrl</text>
<text x="235.9" y="511.1" font-size="10.6" text-anchor="middle" fill="#111">MPN</text>
<text x="346.9" y="511.4" font-size="10.7" text-anchor="middle" fill="#111">&lt;50%</text>
<text x="409.4" y="511.4" font-size="10.7" text-anchor="middle" fill="#111">&gt;50%</text>
<text x="382.8" y="525.6" font-size="10.4" text-anchor="middle" fill="#111" textLength="64.6" lengthAdjust="spacingAndGlyphs">JAK2 V617F</text>
</g>
<g id="panelC">
<text x="2" y="546.1" font-size="20.4" font-family='"Liberation Sans", "DejaVu Sans", sans-serif' font-weight="bold" fill="#000" textLength="12.8" lengthAdjust="spacingAndGlyphs">C</text>
<line x1="194.3" y1="533.6" x2="376.5" y2="533.6" stroke="#a0a0a0" stroke-width="1"/>
<line x1="194.3" y1="533.6" x2="194.3" y2="685.8" stroke="#a6a6a6" stroke-width="1"/>
<line x1="376.5" y1="533.6" x2="376.5" y2="574.6" stroke="#a8a8a8" stroke-width="1"/>
<line x1="376.5" y1="577.2" x2="376.5" y2="685.8" stroke="#a8a8a8" stroke-width="1"/>
<line x1="194.3" y1="685.8" x2="376.5" y2="685.8" stroke="#a6a6a6" stroke-width="1"/>
<line x1="372.6" y1="576.7" x2="380.4" y2="573.7" stroke="#7a7a7a" stroke-width="1"/>
<line x1="372.6" y1="578.3" x2="380.4" y2="575.3" stroke="#7a7a7a" stroke-width="1"/>
<text x="188.4" y="535.85" font-size="5.8" text-anchor="end" font-family='"Liberation Sans", "DejaVu Sans", sans-serif' textLength="13.8" lengthAdjust="spacingAndGlyphs">2500</text>
<text x="188.4" y="555.85" font-size="5.8" text-anchor="end" font-family='"Liberation Sans", "DejaVu Sans", sans-serif' textLength="13.8" lengthAdjust="spacingAndGlyphs">1500</text>
<text x="188.4" y="582.45" font-size="5.8" text-anchor="end" font-family='"Liberation Sans", "DejaVu Sans", sans-serif' textLength="10.35" lengthAdjust="spacingAndGlyphs">500</text>
<text x="188.4" y="603.45" font-size="5.8" text-anchor="end" font-family='"Liberation Sans", "DejaVu Sans", sans-serif' textLength="10.35" lengthAdjust="spacingAndGlyphs">400</text>
<text x="188.4" y="624.55" font-size="5.8" text-anchor="end" font-family='"Liberation Sans", "DejaVu Sans", sans-serif' textLength="10.35" lengthAdjust="spacingAndGlyphs">300</text>
<text x="188.4" y="645.75" font-size="5.8" text-anchor="end" font-family='"Liberation Sans", "DejaVu Sans", sans-serif' textLength="10.35" lengthAdjust="spacingAndGlyphs">200</text>
<text x="188.4" y="666.75" font-size="5.8" text-anchor="end" font-family='"Liberation Sans", "DejaVu Sans", sans-serif' textLength="10.35" lengthAdjust="spacingAndGlyphs">100</text>
<text x="188.4" y="687.85" font-size="5.8" text-anchor="end" font-family='"Liberation Sans", "DejaVu Sans", sans-serif' textLength="3.45" lengthAdjust="spacingAndGlyphs">0</text>
<text x="169.4" y="606.2" font-size="9.4" text-anchor="middle" fill="#111" transform="rotate(-90 169.4 606.2)" textLength="103.7" lengthAdjust="spacingAndGlyphs">miR-28/U6 (rel. Mo7e)</text>
<line x1="203.03" y1="543" x2="203.03" y2="548.5" stroke="#555" stroke-width="0.8"/>
<line x1="201.53" y1="543" x2="204.53" y2="543" stroke="#555" stroke-width="0.8"/>
<rect x="197.3" y="548" width="11.45" height="24.9" fill="#8a8a8a"/>
<rect x="197.3" y="580.3" width="11.45" height="105.5" fill="#8a8a8a"/>
<line x1="215.88" y1="676.2" x2="215.88" y2="678.5" stroke="#444" stroke-width="0.8"/>
<line x1="214.38" y1="676.2" x2="217.38" y2="676.2" stroke="#444" stroke-width="0.8"/>
<rect x="210.15" y="678" width="11.45" height="7.8" fill="#222"/>
<line x1="233.39" y1="593.8" x2="233.39" y2="604.4" stroke="#555" stroke-width="0.8"/>
<line x1="231.89" y1="593.8" x2="234.89" y2="593.8" stroke="#555" stroke-width="0.8"/>
<rect x="227.67" y="603.9" width="11.45" height="81.9" fill="#8a8a8a"/>
<line x1="246.24" y1="680.2" x2="246.24" y2="681.7" stroke="#444" stroke-width="0.8"/>
<line x1="244.74" y1="680.2" x2="247.74" y2="680.2" stroke="#444" stroke-width="0.8"/>
<rect x="240.52" y="681.2" width="11.45" height="4.6" fill="#222"/>
<line x1="263.76" y1="649.2" x2="263.76" y2="653.1" stroke="#555" stroke-width="0.8"/>
<line x1="262.26" y1="649.2" x2="265.26" y2="649.2" stroke="#555" stroke-width="0.8"/>
<rect x="258.03" y="652.6" width="11.45" height="33.2" fill="#8a8a8a"/>
<line x1="276.61" y1="681.5" x2="276.61" y2="682.8" stroke="#444" stroke-width="0.8"/>
<line x1="275.11" y1="681.5" x2="278.11" y2="681.5" stroke="#444" stroke-width="0.8"/>
<rect x="270.88" y="682.3" width="11.45" height="3.5" fill="#222"/>
<line x1="294.12" y1="671.3" x2="294.12" y2="674.5" stroke="#555" stroke-width="0.8"/>
<line x1="292.62" y1="671.3" x2="295.62" y2="671.3" stroke="#555" stroke-width="0.8"/>
<rect x="288.4" y="674" width="11.45" height="11.8" fill="#8a8a8a"/>
<line x1="306.97" y1="680.8" x2="306.97" y2="682.3" stroke="#444" stroke-width="0.8"/>
<line x1="305.47" y1="680.8" x2="308.47" y2="680.8" stroke="#444" stroke-width="0.8"/>
<rect x="301.25" y="681.8" width="11.45" height="4" fill="#222"/>
<line x1="324.49" y1="666.7" x2="324.49" y2="669.4" stroke="#555" stroke-width="0.8"/>
<line x1="322.99" y1="666.7" x2="325.99" y2="666.7" stroke="#555" stroke-width="0.8"/>
<rect x="318.77" y="668.9" width="11.45" height="16.9" fill="#8a8a8a"/>
<line x1="337.34" y1="681.2" x2="337.34" y2="682.6" stroke="#444" stroke-width="0.8"/>
<line x1="335.84" y1="681.2" x2="338.84" y2="681.2" stroke="#444" stroke-width="0.8"/>
<rect x="331.62" y="682.1" width="11.45" height="3.7" fill="#222"/>
<line x1="354.86" y1="673.5" x2="354.86" y2="676.1" stroke="#555" stroke-width="0.8"/>
<line x1="353.36" y1="673.5" x2="356.36" y2="673.5" stroke="#555" stroke-width="0.8"/>
<rect x="349.13" y="675.6" width="11.45" height="10.2" fill="#8a8a8a"/>
<line x1="367.71" y1="680.6" x2="367.71" y2="682.3" stroke="#444" stroke-width="0.8"/>
<line x1="366.21" y1="680.6" x2="369.21" y2="680.6" stroke="#444" stroke-width="0.8"/>
<rect x="361.98" y="681.8" width="11.45" height="4" fill="#222"/>
<line x1="192" y1="579.8" x2="212" y2="572.6" stroke="#444" stroke-width="0.6"/>
<line x1="192" y1="581.6" x2="212" y2="574.4" stroke="#444" stroke-width="0.6"/>
<rect x="250.6" y="541.2" width="4.2" height="4.2" fill="#8a8a8a"/>
<text x="256.6" y="545.6" font-size="6.8" font-family='"Liberation Sans", "DejaVu Sans", sans-serif' textLength="23" lengthAdjust="spacingAndGlyphs">platelets</text>
<rect x="285.1" y="541.2" width="4.4" height="4.4" fill="#222"/>
<text x="291.2" y="545.6" font-size="6.8" font-family='"Liberation Sans", "DejaVu Sans", sans-serif' textLength="36" lengthAdjust="spacingAndGlyphs">Granulocytes</text>
<text x="210.7" y="696.9" font-size="8.5" text-anchor="middle" fill="#111">2</text>
<text x="208.3" y="709.4" font-size="9.2" text-anchor="middle" fill="#111" textLength="10.6" lengthAdjust="spacingAndGlyphs">ET</text>
<text x="209.7" y="717.7" font-size="6.3" text-anchor="middle" textLength="18.2" lengthAdjust="spacingAndGlyphs">(WT)</text>
<text x="240.6" y="696.9" font-size="8.5" text-anchor="middle" fill="#111">6</text>
<text x="242.2" y="709.4" font-size="9.2" text-anchor="middle" fill="#111" textLength="10.6" lengthAdjust="spacingAndGlyphs">PV</text>
<text x="242.4" y="717" font-size="6.3" text-anchor="middle" textLength="29.6" lengthAdjust="spacingAndGlyphs">(V617F)</text>
<text x="271.7" y="696.9" font-size="8.5" text-anchor="middle" fill="#111">9</text>
<text x="272.2" y="709.4" font-size="9.2" text-anchor="middle" fill="#111" textLength="10.6" lengthAdjust="spacingAndGlyphs">ET</text>
<text x="273.2" y="717" font-size="6.3" text-anchor="middle" textLength="29.6" lengthAdjust="spacingAndGlyphs">(V617F)</text>
<text x="301.7" y="696.9" font-size="8.5" text-anchor="middle" fill="#111">8</text>
<text x="302.3" y="709.4" font-size="9.2" text-anchor="middle" fill="#111" textLength="10.6" lengthAdjust="spacingAndGlyphs">ET</text>
<text x="303.3" y="717" font-size="6.3" text-anchor="middle" textLength="29.6" lengthAdjust="spacingAndGlyphs">(V617F)</text>
<text x="331.7" y="696.9" font-size="8.5" text-anchor="middle" fill="#111">1</text>
<text x="329.7" y="709.4" font-size="9.2" text-anchor="middle" fill="#111" textLength="10.6" lengthAdjust="spacingAndGlyphs">ET</text>
<text x="331.6" y="717.7" font-size="6.3" text-anchor="middle" textLength="18.2" lengthAdjust="spacingAndGlyphs">(WT)</text>
<text x="362.5" y="696.9" font-size="8.5" text-anchor="middle" fill="#111">7</text>
<text x="363.4" y="709.4" font-size="9.2" text-anchor="middle" fill="#111" textLength="10.6" lengthAdjust="spacingAndGlyphs">ET</text>
<text x="364.3" y="717" font-size="6.3" text-anchor="middle" textLength="29.6" lengthAdjust="spacingAndGlyphs">(V617F)</text>
</g>
</svg>
</body>
</html>
